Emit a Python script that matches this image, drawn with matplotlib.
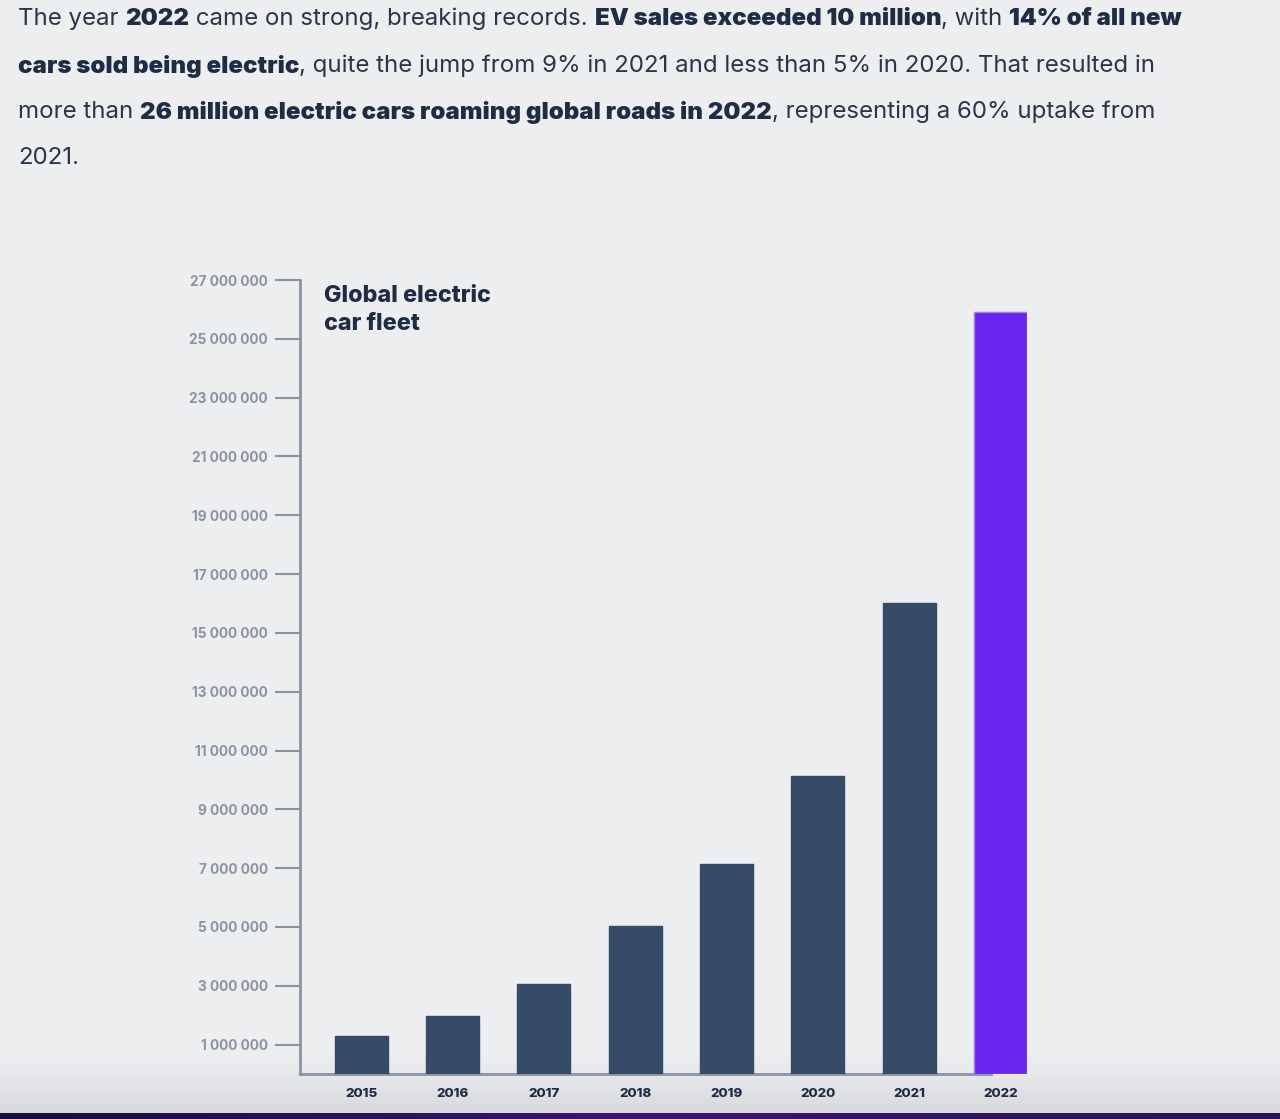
import matplotlib.pyplot as plt
import numpy as np

years = ["2015", "2016", "2017", "2018", "2019", "2020", "2021", "2022"]
fleet = [1290000, 1980000, 3060000, 5030000, 7140000, 10130000, 16000000, 25900000]
yticks = [1000000, 3000000, 5000000, 7000000, 9000000, 11000000, 13000000,
          15000000, 17000000, 19000000, 21000000, 23000000, 25000000, 27000000]

# intro paragraph: (text, bold) runs per line
para = [
    [("The year ", False), ("2022", True), (" came on strong, breaking records. ", False),
     ("EV sales exceeded 10 million", True), (", with ", False), ("14% of all new", True)],
    [("cars sold being electric", True),
     (", quite the jump from 9% in 2021 and less than 5% in 2020. That resulted in", False)],
    [("more than ", False), ("26 million electric cars roaming global roads in 2022", True),
     (", representing a 60% uptake from", False)],
    [("2021.", False)],
]

bg = "#eceef0"
navy = "#1f2c45"
grey = "#8a93a3"
bar_col = "#354b68"
hi_col = "#6a24f2"

plt.rcParams["font.family"] = ["Inter", "DejaVu Sans"]

W, H = 1280, 1119
fig = plt.figure(figsize=(W / 100, H / 100), dpi=100, facecolor=bg)

# bottom shading and dark strip
bgax = fig.add_axes([0, 0, 1, 1], zorder=-5)
grad = np.linspace(0, 1, 60).reshape(-1, 1)
bgax.imshow(grad, extent=(0, W, 1113, 1055), cmap=plt.matplotlib.colors.LinearSegmentedColormap.from_list(
    "g", [bg, "#d9dadd"]), aspect="auto", origin="upper")
strip = np.linspace(0, 1, 100).reshape(1, -1)
bgax.imshow(strip, extent=(0, W, H, 1113), cmap=plt.matplotlib.colors.LinearSegmentedColormap.from_list(
    "p", ["#1a0c45", "#3a1670", "#2a1258"]), aspect="auto")
bgax.set_xlim(0, W)
bgax.set_ylim(H, 0)
bgax.axis("off")

# paragraph text
fig.canvas.draw()
r = fig.canvas.get_renderer()
fs = 17.3
line_y = [19, 66, 112, 158]
for runs, yc in zip(para, line_y):
    x = 18
    for txt, b in runs:
        t = fig.text(x / W, 1 - yc / H, txt, fontsize=fs, color=navy if b else "#2a3548",
                     fontweight="black" if b else "normal", va="center", ha="left")
        bb = t.get_window_extent(renderer=r)
        x += bb.width

# chart
left, right = 300, 1027
bottom, top = 1074, 280
ax = fig.add_axes([left / W, 1 - bottom / H, (right - left) / W, (bottom - top) / H])
ax.set_facecolor("none")
x = np.arange(len(years))
colors = [bar_col] * (len(years) - 1) + [hi_col]
edges = [bar_col] * (len(years) - 1) + ["#a47af7"]
ax.bar(x, fleet, width=0.58, color=colors, edgecolor=edges, linewidth=1, zorder=3)

x0 = -0.668
ax.set_xlim(x0, 7.29)
ax.set_ylim(0, 27000000)
for s in ["top", "right"]:
    ax.spines[s].set_visible(False)
for s in ["left", "bottom"]:
    ax.spines[s].set_color(grey)
    ax.spines[s].set_linewidth(2)
ax.spines["bottom"].set_bounds(x0, 6.9)

ax.set_yticks(yticks)
ax.set_yticklabels([f"{v:,}".replace(",", " ") for v in yticks])
ax.tick_params(axis="y", length=18, width=1.5, color=grey, pad=5,
               labelsize=9.8, labelcolor=grey)
for lab in ax.get_yticklabels():
    lab.set_fontweight("bold")

ax.set_xticks(x)
ax.set_xticklabels(years)
ax.tick_params(axis="x", length=0, pad=10, labelsize=9.6, labelcolor=navy)
for lab in ax.get_xticklabels():
    lab.set_fontweight("heavy")

fig.text(324 / W, 1 - 285 / H, "Global electric\ncar fleet", fontsize=16.8,
         fontweight="heavy", color=navy, va="top", ha="left", linespacing=1.35)

fig.savefig("out.png", dpi=100, facecolor=bg)
